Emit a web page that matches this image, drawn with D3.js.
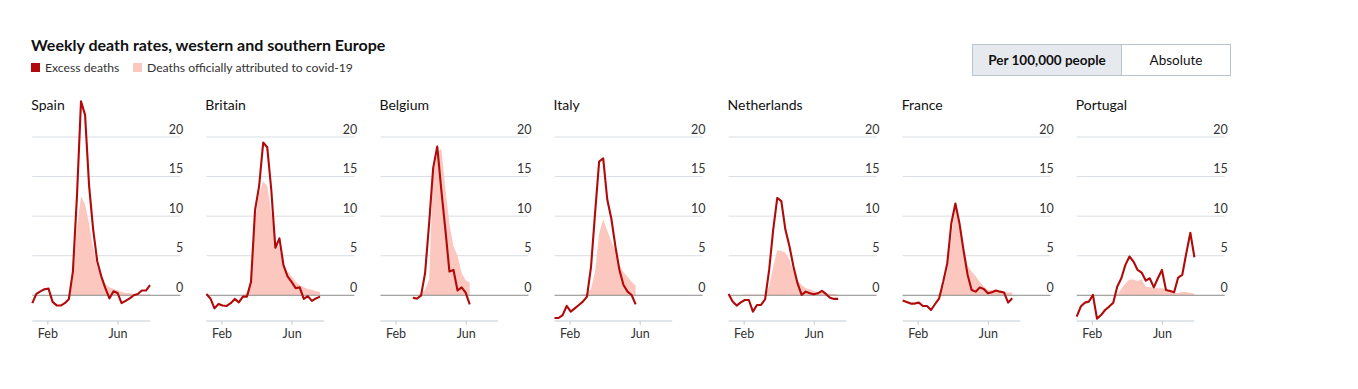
<!DOCTYPE html>
<html>
<head>
<meta charset="utf-8">
<script src="https://cdn.jsdelivr.net/npm/d3@7"></script>
<style>
  body { margin: 0; background: #fff; }
  svg { font-family: Lato, "Noto Sans", sans-serif; display: block; }
</style>
</head>
<body>
<svg id="chart" width="1358" height="389"></svg>
<script>
// weekly values, per 100,000 people, first point = week of Jan 6th 2020
const countries = ["Spain", "Britain", "Belgium", "Italy", "Netherlands", "France", "Portugal"];

const spainExcess = [-1.0, 0.17, 0.5, 0.76, 0.84, -0.84, -1.27, -1.3, -1.0, -0.5, 3.0, 12.5, 24.5, 22.8, 13.8, 8.3, 4.3, 2.4, 0.9, -0.4, 0.5, 0.3, -1.0, -0.7, -0.4, 0.0, 0.17, 0.6, 0.6, 1.27];
const spainCovid = [0, 0, 0, 0, 0, 0, 0, 0, 0, 0.1, 2.0, 8.5, 12.5, 11.5, 9.0, 6.0, 3.6, 2.3, 1.4, 1.0, 0.8, 0.65, 0.45, 0.3, 0.25, 0.15, 0.1, 0.1, 0.1, 0.1];

const britainExcess = [0.17, -0.4, -1.65, -1.1, -1.3, -1.35, -1.0, -0.46, -0.9, -0.17, -0.17, 1.7, 10.8, 13.8, 19.3, 18.7, 13.3, 6.0, 7.2, 3.8, 2.4, 1.7, 0.9, 1.0, -0.46, -0.1, -0.7, -0.4, -0.17];
const britainCovid = [0, 0, 0, 0, 0, 0, 0, 0, 0, 0.05, 0.3, 1.8, 9.5, 12.8, 14.4, 13.8, 10.4, 7.0, 6.0, 4.0, 3.0, 2.4, 1.7, 1.3, 1.0, 0.8, 0.7, 0.55, 0.4];

const belgiumExcess = [null, null, null, null, null, null, null, null, -0.3, -0.42, -0.04, 2.8, 9.1, 16.1, 18.8, 13.3, 8.3, 3.0, 3.2, 0.6, 1.0, 0.34, -1.14];
const belgiumCovid = [null, null, null, null, null, null, null, null, 0, 0, 0.2, 0.7, 2.0, 15.5, 18.0, 18.5, 13.5, 9.0, 6.2, 5.0, 2.8, 1.9, 1.6];

const italyExcess = [-2.87, -2.87, -2.5, -1.35, -2.07, -1.65, -1.22, -0.8, -0.17, 3.6, 10.4, 16.9, 17.3, 12.1, 9.7, 6.2, 3.2, 1.3, 0.46, 0.04, -1.14];
const italyCovid = [0, 0, 0, 0, 0, 0, 0, 0.1, 0.2, 0.8, 3.0, 7.8, 9.6, 8.2, 6.8, 5.6, 3.8, 2.9, 2.3, 1.7, 1.2];

const netherlandsExcess = [0.17, -0.8, -1.3, -0.9, -0.6, -0.6, -2.07, -1.22, -1.22, -0.5, 3.2, 8.3, 12.3, 11.9, 8.3, 6.2, 3.6, 1.5, 0.04, 0.46, 0.25, 0.13, 0.25, 0.55, 0.17, -0.3, -0.46, -0.46];
const netherlandsCovid = [0, 0, 0, 0, 0.1, 0.1, 0.1, 0.1, 0.1, 0.1, 1.1, 3.6, 5.7, 5.6, 5.4, 4.5, 3.0, 1.9, 1.3, 0.9, 0.76, 0.55, 0.4, 0.35, 0.25, 0.2, 0.15, 0.1];

const franceExcess = [-0.67, -0.84, -1.05, -1.05, -0.93, -1.35, -1.35, -1.86, -1.1, -0.38, 1.7, 4.05, 9.1, 11.6, 9.1, 5.7, 2.6, 0.67, 0.46, 0.97, 0.8, 0.25, 0.38, 0.6, 0.46, 0.34, -0.93, -0.38];
const franceCovid = [0, 0, 0, 0, 0, 0, 0, 0, 0, 0.1, 1.0, 3.2, 7.4, 11.2, 8.3, 6.2, 3.8, 3.0, 2.4, 1.7, 1.1, 0.67, 0.67, 0.6, 0.46, 0.38, 0.38, 0.34];

const portugalExcess = [-2.7, -1.43, -0.93, -0.8, 0.04, -2.95, -2.5, -1.86, -1.43, -0.93, 1.1, 2.15, 3.84, 4.9, 4.26, 3.2, 2.87, 1.86, 2.15, 1.0, 2.15, 3.2, 0.67, 0.55, 0.38, 2.24, 2.57, 5.3, 7.9, 4.8];
const portugalCovid = [0, 0, 0, 0, 0, 0, 0, 0, 0, 0, 0.1, 0.8, 1.5, 2.0, 2.0, 1.8, 2.0, 1.1, 1.0, 0.9, 0.9, 0.9, 0.8, 0.4, 0.3, 0.3, 0.4, 0.4, 0.3, 0.2];

const excessByCountry = [spainExcess, britainExcess, belgiumExcess, italyExcess, netherlandsExcess, franceExcess, portugalExcess];
const covidByCountry = [spainCovid, britainCovid, belgiumCovid, italyCovid, netherlandsCovid, franceCovid, portugalCovid];

const yTicks = [0, 5, 10, 15, 20];
const monthTicks = [new Date(2020, 1, 1), new Date(2020, 5, 1)];
const firstWeek = new Date(2020, 0, 6);
const lastWeek = new Date(2020, 6, 27);

const legendItems = ["Excess deaths", "Deaths officially attributed to covid-19"];
const buttons = ["Per 100,000 people", "Absolute"];

// colours
const red = "#b10a0a";
const pink = "#fbc7bf";
const gridColor = "#d8dee4";

const svg = d3.select("#chart");

// title + legend
svg.append("text")
    .attr("x", 31).attr("y", 51)
    .attr("font-size", 16).attr("font-weight", 700).attr("fill", "#111")
    .text("Weekly death rates, western and southern Europe");

const legend = svg.append("g").attr("transform", "translate(31,63)");
const legendX = [0, 102];
legend.selectAll("g")
    .data(legendItems)
    .enter()
    .append("g")
    .attr("transform", (d, i) => `translate(${legendX[i]},0)`)
    .each(function(d, i) {
        const g = d3.select(this);
        g.append("rect").attr("width", 9).attr("height", 9).attr("fill", i === 0 ? red : pink);
        g.append("text").attr("x", 14).attr("y", 9).attr("font-size", 12.2).attr("fill", "#333").text(d);
    });

// toggle buttons (static)
const btn = svg.append("g").attr("transform", "translate(972.5,44.5)");
const btnW = [149, 109];
let bx = 0;
buttons.forEach((b, i) => {
    btn.append("rect")
        .attr("x", bx).attr("y", 0).attr("width", btnW[i]).attr("height", 31)
        .attr("fill", i === 0 ? "#e6eaee" : "#fff")
        .attr("stroke", "#b9c5ce");
    btn.append("text")
        .attr("x", bx + btnW[i] / 2).attr("y", 20)
        .attr("text-anchor", "middle")
        .attr("font-size", 13.5).attr("font-weight", i === 0 ? 700 : 400)
        .attr("fill", "#111")
        .text(b);
    bx += btnW[i];
});

// small multiples
const panelX = d3.scalePoint().domain(countries).range([32.3, 1076.7]);

const x = d3.scaleTime().domain([firstWeek, lastWeek]).range([0, 117.7]);
const y = d3.scaleLinear().domain([-3.25, 20]).range([321, 137]);
const gridRight = 148;

const weekDate = i => d3.timeDay.offset(firstWeek, 7 * i);

const line = d3.line()
    .defined(d => d != null)
    .x((d, i) => x(weekDate(i)))
    .y(d => y(d));

const area = d3.area()
    .defined(d => d != null)
    .x((d, i) => x(weekDate(i)))
    .y0(y(0))
    .y1(d => y(d));

countries.forEach((c, k) => {
    const g = svg.append("g").attr("transform", `translate(${panelX(c)},0)`);

    g.append("text")
        .attr("x", -1).attr("y", 110)
        .attr("font-size", 14).attr("fill", "#111")
        .text(c);

    // horizontal gridlines
    g.selectAll(".grid")
        .data(yTicks.filter(t => t !== 0))
        .enter()
        .append("line")
        .attr("x1", 0).attr("x2", gridRight)
        .attr("y1", d => y(d)).attr("y2", d => y(d))
        .attr("stroke", gridColor).attr("stroke-width", 1);

    g.selectAll(".ylab")
        .data(yTicks)
        .enter()
        .append("text")
        .attr("x", gridRight + 3)
        .attr("y", d => y(d) - 3.5)
        .attr("text-anchor", "end")
        .attr("font-size", 12.5).attr("fill", "#333")
        .text(d => d);

    // covid-19 deaths
    g.append("path")
        .attr("d", area(covidByCountry[k]))
        .attr("fill", pink);

    // zero line
    g.append("line")
        .attr("x1", 0).attr("x2", gridRight)
        .attr("y1", y(0)).attr("y2", y(0))
        .attr("stroke", "#8a8a8a").attr("stroke-width", 1);

    // excess deaths
    g.append("path")
        .attr("d", line(excessByCountry[k]))
        .attr("fill", "none")
        .attr("stroke", red)
        .attr("stroke-width", 2.1)
        .attr("stroke-linejoin", "round");

    // bottom axis
    const xAxis = g.append("g")
        .attr("transform", `translate(0,${y.range()[0]})`)
        .call(d3.axisBottom(x).tickValues(monthTicks).tickFormat(d3.timeFormat("%b")).tickSize(4).tickPadding(4));
    xAxis.select(".domain").attr("stroke", "#c3ccd4").attr("d", `M0,0H${x.range()[1]}`);
    xAxis.selectAll(".tick line").attr("stroke", "#c3ccd4");
    xAxis.selectAll(".tick text")
        .attr("font-family", "Lato, 'Noto Sans', sans-serif")
        .attr("font-size", 12.5).attr("fill", "#333");
});
</script>
</body>
</html>
